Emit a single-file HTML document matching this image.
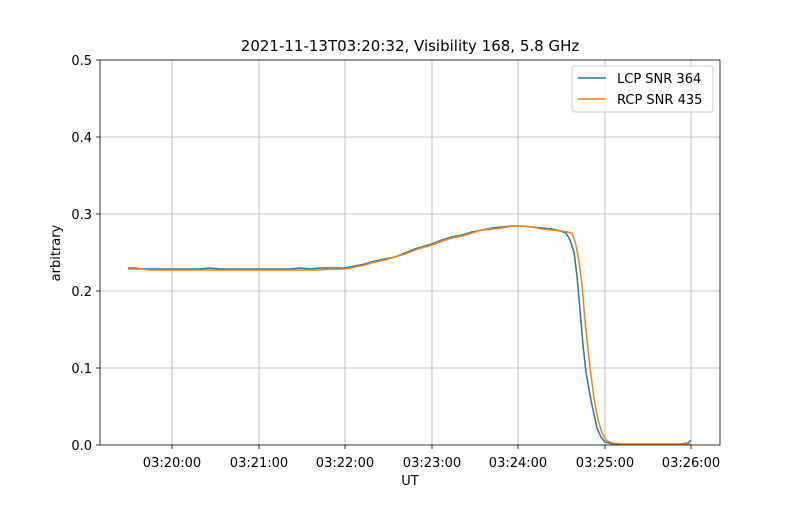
<!DOCTYPE html>
<html><head><meta charset="utf-8"><style>
body{margin:0;background:#fff}
svg text{font-family:"DejaVu Sans","Liberation Sans",sans-serif;fill:#000}
</style></head><body>
<svg width="800" height="500" viewBox="0 0 800 500" xmlns="http://www.w3.org/2000/svg">
<rect width="800" height="500" fill="#fff"/>
<g stroke="#b0b0b0" stroke-width="0.8">
<line x1="172" y1="60" x2="172" y2="445"/><line x1="259" y1="60" x2="259" y2="445"/>
<line x1="345" y1="60" x2="345" y2="445"/><line x1="432" y1="60" x2="432" y2="445"/>
<line x1="518" y1="60" x2="518" y2="445"/><line x1="605" y1="60" x2="605" y2="445"/>
<line x1="691" y1="60" x2="691" y2="445"/>
<line x1="100" y1="368" x2="720" y2="368"/><line x1="100" y1="291" x2="720" y2="291"/>
<line x1="100" y1="214" x2="720" y2="214"/><line x1="100" y1="137" x2="720" y2="137"/>
</g>
<polyline fill="none" stroke="#1f77b4" stroke-width="1.5" points="128,268 135,268 142,269 150,269 160,269 170,269 180,269 190,269 200,269 210,268 220,269 230,269 240,269 250,269 260,269 270,269 280,269 290,269 300,268 310,269 320,268 330,268 340,268 345,268 355,266 365,264 375,261 385,259 395,257 405,253 415,249 425,246 432,244 442,240 452,237 462,235 472,232 482,230 492,228 502,227 512,226 522,226 532,227 542,228 552,229 560,231 566,233 570,240 574,252 577,276 580,310 583,345 586,372 590,395 593,410 597,428 601,437 605,442 612,444 620,444 640,444 660,444 680,444 688,443 691,440"/>
<polyline fill="none" stroke="#ff7f0e" stroke-width="1.5" points="128,269 140,269 150,270 160,270 170,270 180,270 190,270 200,270 210,270 220,270 230,270 240,270 250,270 260,270 270,270 280,270 290,270 300,270 310,270 320,270 330,269 340,269 345,269 355,267 365,265 375,262 385,260 395,257 405,254 415,250 425,247 432,245 442,241 452,238 462,236 472,233 482,230 492,229 502,228 512,226 522,226 532,227 542,229 552,230 562,231 572,233 576,245 579,262 582,285 585,320 588,350 591,375 594,398 598,420 602,433 606,440 612,443 620,444 640,444 660,444 680,444 691,444"/>
<rect x="100" y="60" width="620" height="385" fill="none" stroke="#000" stroke-width="0.8"/>
<g stroke="#000" stroke-width="0.8">
<line x1="172" y1="445" x2="172" y2="449"/><line x1="259" y1="445" x2="259" y2="449"/>
<line x1="345" y1="445" x2="345" y2="449"/><line x1="432" y1="445" x2="432" y2="449"/>
<line x1="518" y1="445" x2="518" y2="449"/><line x1="605" y1="445" x2="605" y2="449"/>
<line x1="691" y1="445" x2="691" y2="449"/>
<line x1="96" y1="445" x2="100" y2="445"/><line x1="96" y1="368" x2="100" y2="368"/>
<line x1="96" y1="291" x2="100" y2="291"/><line x1="96" y1="214" x2="100" y2="214"/>
<line x1="96" y1="137" x2="100" y2="137"/><line x1="96" y1="60" x2="100" y2="60"/>
</g>
<g font-size="13" text-anchor="middle">
<text x="172" y="467">03:20:00</text><text x="259" y="467">03:21:00</text>
<text x="345" y="467">03:22:00</text><text x="432" y="467">03:23:00</text>
<text x="518" y="467">03:24:00</text><text x="605" y="467">03:25:00</text>
<text x="691" y="467">03:26:00</text>
<text x="410" y="485">UT</text>
<text x="410" y="51" font-size="15">2021-11-13T03:20:32, Visibility 168, 5.8 GHz</text>
</g>
<g font-size="13" text-anchor="end">
<text x="92" y="450">0.0</text><text x="92" y="373">0.1</text><text x="92" y="296">0.2</text>
<text x="92" y="219">0.3</text><text x="92" y="142">0.4</text><text x="92" y="65">0.5</text>
</g>
<text x="60" y="253" font-size="13" text-anchor="middle" transform="rotate(-90 60 253)">arbitrary</text>
<rect x="572" y="66" width="141" height="46" rx="3" fill="#fff" fill-opacity="0.8" stroke="#ccc"/>
<line x1="578" y1="78" x2="606" y2="78" stroke="#1f77b4" stroke-width="1.5"/>
<line x1="578" y1="99" x2="606" y2="99" stroke="#ff7f0e" stroke-width="1.5"/>
<text x="617" y="83" font-size="13">LCP SNR 364</text>
<text x="617" y="104" font-size="13">RCP SNR 435</text>
</svg>
</body></html>
